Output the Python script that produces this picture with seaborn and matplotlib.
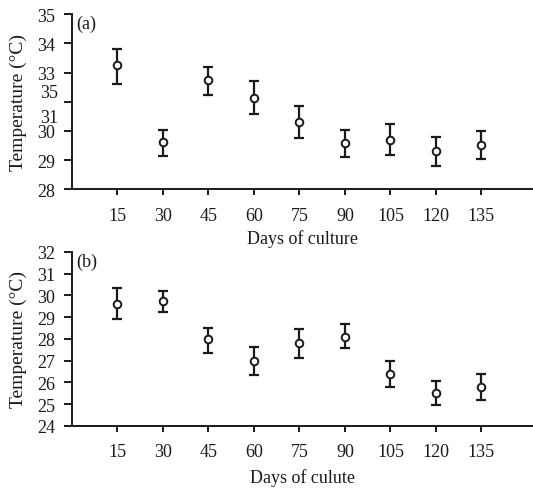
import numpy as np
import pandas as pd
import matplotlib
matplotlib.use("Agg")
import matplotlib.pyplot as plt
import seaborn as sns

days = [15, 30, 45, 60, 75, 90, 105, 120, 135]

# Panel (a)
a_mean = [33.25, 29.61, 32.59, 31.69, 30.45, 29.58, 29.67, 29.31, 29.52]
a_hi = [33.81, 30.07, 33.18, 32.57, 31.29, 30.07, 30.33, 29.79, 29.98]
a_lo = [32.43, 29.15, 31.83, 30.88, 29.75, 29.09, 29.19, 28.81, 29.02]
a_ticks = [28, 29, 30, 31.5, 33, 34, 35]
a_ticklabels = ["28", "29", "30", "", "33", "34", "35"]
a_extra_ticks = [30.8, 32.1]
a_extra_labels = ["31", "35"]

# Panel (b)
b_mean = [29.58, 29.73, 27.99, 26.98, 27.81, 28.07, 26.40, 25.49, 25.77]
b_hi = [30.34, 30.22, 28.50, 27.61, 28.44, 28.68, 27.00, 26.07, 26.37]
b_lo = [28.93, 29.22, 27.33, 26.32, 27.12, 27.56, 25.77, 24.94, 25.20]
b_ticks = [24, 25, 26, 27, 28, 29, 30, 31, 32]

sns.set_theme(style="ticks")
plt.rcParams["font.family"] = ["Liberation Serif", "DejaVu Serif"]

INK = "#1a1a1a"
FS = 13

fig = plt.figure(figsize=(5.33, 4.89), dpi=100)
ax1 = fig.add_axes([0.135, 0.611, 0.865, 0.358])
ax2 = fig.add_axes([0.135, 0.127, 0.865, 0.356])


def fwd(v):
    v = np.asarray(v, dtype=float)
    return np.where(v < 30, v - 28,
                    np.where(v < 33, 2 + (v - 30) * 2.0 / 3.0, 4 + (v - 33)))


def inv(u):
    u = np.asarray(u, dtype=float)
    return np.where(u < 2, u + 28,
                    np.where(u < 4, 30 + (u - 2) * 1.5, 33 + (u - 4)))


def draw(ax, mean, lo, hi):
    df = pd.DataFrame({"day": days, "temp": mean})
    yerr = [np.array(mean) - np.array(lo), np.array(hi) - np.array(mean)]
    ax.errorbar(days, mean, yerr=yerr, fmt="none", ecolor=INK,
                elinewidth=1.6, capsize=3.5, capthick=1.6, zorder=2)
    sns.scatterplot(data=df, x="day", y="temp", ax=ax, marker="o", s=30,
                    facecolor="white", edgecolor=INK, linewidth=1.4,
                    zorder=3)
    ax.set_xlim(0, 152)
    ax.set_xticks(days)
    for s in ["top", "right"]:
        ax.spines[s].set_visible(False)
    for s in ["left", "bottom"]:
        ax.spines[s].set_linewidth(1.4)
        ax.spines[s].set_color(INK)
    ax.tick_params(axis="y", which="major", direction="out", length=6,
                   width=1.4, color=INK, labelsize=FS, pad=6,
                   labelcolor=INK)
    ax.tick_params(axis="x", which="major", direction="out", length=4.5,
                   width=1.4, color=INK, labelsize=FS, pad=8,
                   labelcolor=INK)
    ax.set_ylabel("Temperature (°C)", fontsize=14, color=INK)
    ax.yaxis.set_label_coords(-0.097, 0.5)


draw(ax1, a_mean, a_lo, a_hi)
ax1.set_yscale("function", functions=(fwd, inv))
ax1.set_ylim(28, 35)
ax1.set_yticks(a_ticks)
ax1.set_yticklabels(a_ticklabels)
ax1.set_yticks(a_extra_ticks, minor=True)
ax1.set_yticklabels(a_extra_labels, minor=True)
ax1.tick_params(axis="y", which="minor", length=0, labelsize=FS, pad=10,
                labelcolor=INK)
ax1.set_xlabel("Days of culture", fontsize=FS, color=INK, labelpad=4)
ax1.text(0.01, 0.995, "(a)", transform=ax1.transAxes, fontsize=FS,
         va="top", ha="left", color=INK)

draw(ax2, b_mean, b_lo, b_hi)
ax2.set_ylim(24, 32)
ax2.set_yticks(b_ticks)
ax2.set_xlabel("Days of culute", fontsize=FS, color=INK, labelpad=6)
ax2.text(0.01, 0.995, "(b)", transform=ax2.transAxes, fontsize=FS,
         va="top", ha="left", color=INK)

fig.savefig("out.png", dpi=100)
